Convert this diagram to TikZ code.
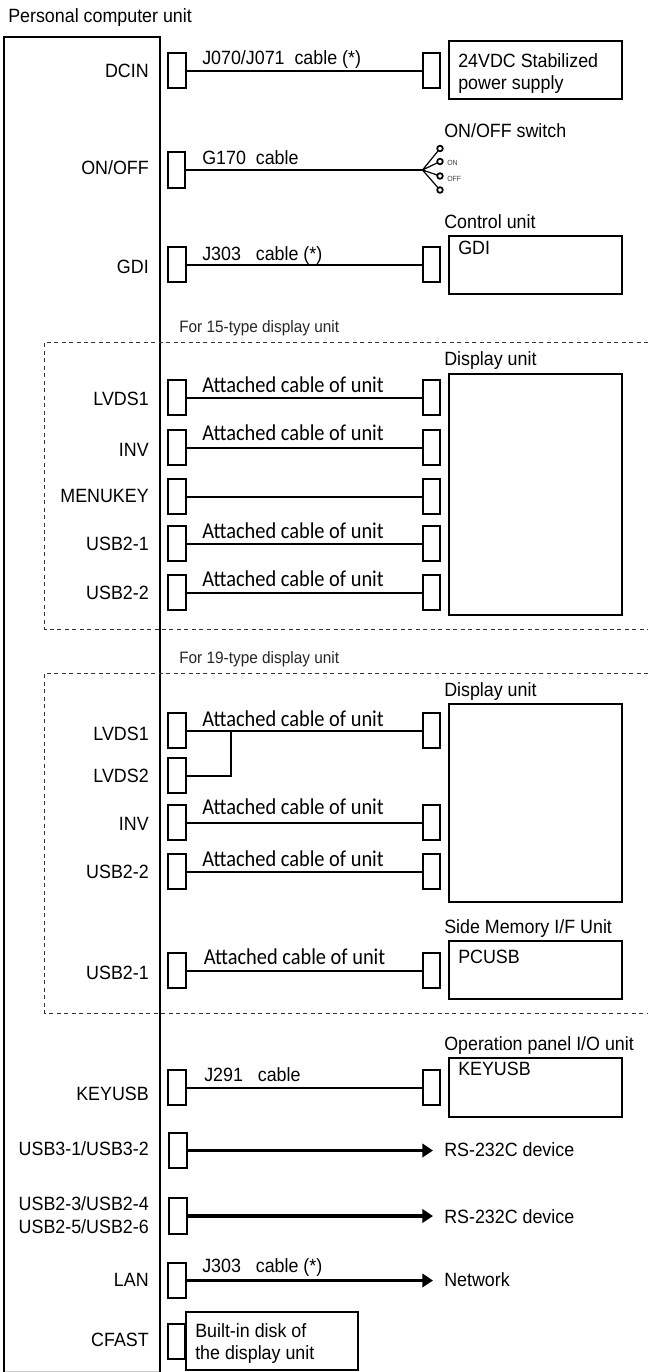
\documentclass[tikz,border=0pt]{standalone}
\usepackage{fontspec}
\setmainfont[FakeStretch=0.93]{Liberation Sans}
\newfontfamily\cablefont[FakeStretch=0.9]{Carlito}
\usetikzlibrary{arrows.meta}
\tikzset{
  conn/.style={draw=black,fill=white,line width=1.5pt,minimum width=12.8pt,minimum height=26.5pt,inner sep=0,outer sep=0},
  unitbox/.style={draw=black,fill=white,line width=1.5pt,inner sep=0,outer sep=0,anchor=north west},
  cable/.style={line width=1.5pt,black},
  arrowcable/.style={line width=2.4pt,black,-{Triangle[length=8pt,width=10pt]},shorten >=0pt},
  port/.style={anchor=base east,inner sep=0,yshift=-5.2pt,font=\fontsize{14.4pt}{16pt}\selectfont},
  lab/.style={anchor=base west,inner sep=0,yshift=-5.2pt,font=\fontsize{14.4pt}{16pt}\selectfont},
  small/.style={anchor=base west,inner sep=0,yshift=-4.4pt,font=\fontsize{12.4pt}{14pt}\selectfont,text=black!85},
  attached/.style={anchor=base west,inner sep=0,yshift=-5.2pt,font=\cablefont\fontsize{17pt}{18pt}\selectfont},
  tiny/.style={anchor=west,inner sep=0,font=\fontsize{5.6pt}{6pt}\selectfont,text=black!75},
  term/.style={circle,draw=black,line width=1.3pt,fill=white,minimum size=4.2pt,inner sep=0,outer sep=0},
  zone/.style={line width=.7pt,dash pattern=on 3pt off 2.6pt,black!80}
}
\begin{document}
\begin{tikzpicture}[x=.75pt,y=-.75pt]
\useasboundingbox[fill=white] (0,0) rectangle (648,1372);
% PC unit
\draw[line width=.6pt,black!20] (4,1371) -- (160,1371);
\draw[line width=1.5pt] (4,1372) -- (4,37) -- (160,37) -- (160,1372);
\node[lab] (pc) at (8,16) {Personal computer unit};
% zones
\draw[zone] (648,342) -- (44.5,342) -- (44.5,629) -- (648,629);
\draw[zone] (648,673) -- (44.5,673) -- (44.5,1013) -- (648,1013);
\node[small] (z15) at (179,327) {For 15-type display unit};
\node[small] (z19) at (179,658) {For 19-type display unit};
% DCIN
\node[port] (pDCIN) at (149,71) {DCIN};
\node[conn] (c1) at (177,70.5) {};
\node[conn] (d1) at (431.5,70.5) {};
\draw[cable] (c1.east) -- (d1.west);
\node[lab] (l1) at (202,58) {J070/J071\ \ cable (*)};
\node[unitbox,minimum width=130pt,minimum height=43.5pt] (psu) at (449,41) {};
\node[lab] (psu1) at (458,61) {24VDC Stabilized};
\node[lab] (psu2) at (458,83) {power supply};
% ON/OFF
\node[port] (pONOFF) at (149,168) {ON/OFF};
\node[conn] (c2) at (176.5,170) {};
\coordinate (hub) at (422.5,170);
\draw[cable] (c2.east) -- (hub);
\node[lab] (l2) at (202,158) {G170\ \ cable};
\node[lab] (swl) at (444,131) {ON/OFF switch};
\node[term] (t1) at (440,148.5) {};
\node[term] (t2) at (440,161.5) {};
\node[term] (t3) at (440,176) {};
\node[term] (t4) at (440,190) {};
\draw[line width=.9pt] (hub) -- (t1) (hub) -- (t2) (hub) -- (t3) (hub) -- (t4);
\node[tiny] (on) at (447,163) {ON};
\node[tiny] (off) at (447,179) {OFF};
% GDI
\node[port] (pGDI) at (149,267) {GDI};
\node[conn] (c3) at (177,264.5) {};
\node[conn] (d3) at (431.5,264.5) {};
\draw[cable] (c3.east) -- (d3.west);
\node[lab] (l3) at (202,254) {J303\ \ \ cable (*)};
\node[lab] (ctl) at (444,222) {Control unit};
\node[unitbox,minimum width=130pt,minimum height=43.5pt] (ctlb) at (449,236) {};
\node[lab] (ctlt) at (458,248) {GDI};
% 15-type
\node[lab] (du15) at (444,359) {Display unit};
\node[unitbox,minimum width=130pt,minimum height=181pt] (db15) at (449,374) {};
\node[port] (p4) at (149,399) {LVDS1};
\node[conn] (c4) at (177,397.5) {};
\node[conn] (d4) at (431.5,397.5) {};
\draw[cable] (c4.east) -- (d4.west);
\node[attached] (l4) at (202,386) {Attached cable of unit};
\node[port] (p5) at (149,450) {INV};
\node[conn] (c5) at (177,447.5) {};
\node[conn] (d5) at (431.5,447.5) {};
\draw[cable] (c5.east) -- (d5.west);
\node[attached] (l5) at (202,434) {Attached cable of unit};
\node[port] (p6) at (149,496) {MENUKEY};
\node[conn] (c6) at (177,496.5) {};
\node[conn] (d6) at (431.5,496.5) {};
\draw[cable] (c6.east) -- (d6.west);
\node[port] (p7) at (149,544) {USB2-1};
\node[conn] (c7) at (177,543.5) {};
\node[conn] (d7) at (431.5,543.5) {};
\draw[cable] (c7.east) -- (d7.west);
\node[attached] (l7) at (202,532) {Attached cable of unit};
\node[port] (p8) at (149,593) {USB2-2};
\node[conn] (c8) at (177,592.5) {};
\node[conn] (d8) at (431.5,592.5) {};
\draw[cable] (c8.east) -- (d8.west);
\node[attached] (l8) at (202,580) {Attached cable of unit};
% 19-type
\node[lab] (du19) at (444,690) {Display unit};
\node[unitbox,minimum width=130pt,minimum height=148.5pt] (db19) at (449,704) {};
\node[port] (p9) at (149,734) {LVDS1};
\node[conn] (c9) at (177,730.5) {};
\node[conn] (d9) at (431.5,730.5) {};
\draw[cable] (c9.east) -- (d9.west);
\node[attached] (l9) at (202,720) {Attached cable of unit};
\node[port] (p10) at (149,776) {LVDS2};
\node[conn] (c10) at (177,775.5) {};
\coordinate (tee) at (231,730.5);
\draw[cable] (c10.east) -| (tee);
\node[port] (p11) at (149,824) {INV};
\node[conn] (c11) at (177,822.5) {};
\node[conn] (d11) at (431.5,822.5) {};
\draw[cable] (c11.east) -- (d11.west);
\node[attached] (l11) at (202,808) {Attached cable of unit};
\node[port] (p12) at (149,872) {USB2-2};
\node[conn] (c12) at (177,871.5) {};
\node[conn] (d12) at (431.5,871.5) {};
\draw[cable] (c12.east) -- (d12.west);
\node[attached] (l12) at (202,860) {Attached cable of unit};
\node[lab] (sm) at (444,927) {Side Memory I/F Unit};
\node[unitbox,minimum width=130pt,minimum height=43.5pt] (smb) at (449,941) {};
\node[lab] (smt) at (458,957) {PCUSB};
\node[port] (p13) at (149,973) {USB2-1};
\node[conn] (c13) at (177,970.5) {};
\node[conn] (d13) at (431.5,970.5) {};
\draw[cable] (c13.east) -- (d13.west);
\node[attached] (l13) at (203.5,958) {Attached cable of unit};
% KEYUSB
\node[lab] (op) at (444,1044) {Operation panel I/O unit};
\node[unitbox,minimum width=130pt,minimum height=44pt] (opb) at (449,1058) {};
\node[lab] (opt) at (458,1069) {KEYUSB};
\node[port] (p14) at (149,1094) {KEYUSB};
\node[conn] (c14) at (177,1087.5) {};
\node[conn] (d14) at (431.5,1087.5) {};
\draw[cable] (c14.east) -- (d14.west);
\node[lab] (l14) at (204,1075) {J291\ \ \ cable};
% RS-232C
\node[port] (p15) at (149,1149) {USB3-1/USB3-2};
\node[conn] (c15) at (178,1150.5) {};
\node[lab] (r15) at (444,1150) {RS-232C device};
\coordinate (a15) at (433,1150.5);
\draw[arrowcable] (c15.east) -- (a15);
\node[port] (p16a) at (149,1204) {USB2-3/USB2-4};
\node[port] (p16b) at (149,1227) {USB2-5/USB2-6};
\node[conn] (c16) at (178,1216) {};
\node[lab] (r16) at (444,1217) {RS-232C device};
\coordinate (a16) at (433,1216);
\draw[arrowcable] (c16.east) -- (a16);
% LAN
\node[port] (p17) at (149,1280) {LAN};
\node[conn] (c17) at (177,1280.5) {};
\node[lab] (r17) at (444,1280) {Network};
\coordinate (a17) at (433,1280.5);
\draw[arrowcable] (c17.east) -- (a17);
\node[lab] (l17) at (202,1266) {J303\ \ \ cable (*)};
% CFAST
\node[port] (p18) at (149,1340) {CFAST};
\node[conn] (c18) at (176.5,1341.5) {};
\node[unitbox,minimum width=129pt,minimum height=43.5pt] (disk) at (186,1312) {};
\node[lab] (dk1) at (195,1331) {Built-in disk of};
\node[lab] (dk2) at (195,1353) {the display unit};
\end{tikzpicture}
\end{document}
